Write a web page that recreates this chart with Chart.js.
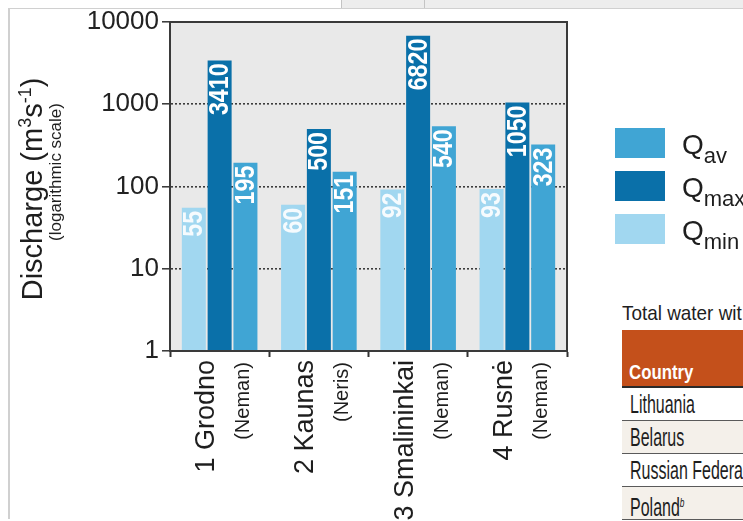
<!DOCTYPE html>
<html>
<head>
<meta charset="utf-8">
<script src="https://cdn.jsdelivr.net/npm/chart.js@4.4.1/dist/chart.umd.min.js"></script>
<style>
  html, body { margin: 0; padding: 0; background: #fff; }
  #page { position: relative; width: 743px; height: 521px; overflow: hidden; background: #fff; }
  #strip { position: absolute; left: 341px; top: 0; width: 402px; height: 8px; background: #ededed;
           border-left: 1px solid #c4c4c4; border-bottom: 1px solid #c4c4c4; }
  #strip2 { position: absolute; left: 424px; top: 0; width: 1px; height: 8px; background: #c4c4c4; }
  #frame { position: absolute; left: 8px; top: 8px; width: 760px; height: 510px;
           border-top: 1px solid #d0d0d0; border-left: 2px solid #d0d0d0; }
  #c { position: absolute; left: 0; top: 0; z-index: 2; }
  .t { position: absolute; font-family: 'Liberation Sans', Arial, sans-serif; color: #1e1e1e; white-space: nowrap; }
  .sq { display: inline-block; transform-origin: left center; }
  #cap { left: 622px; top: 302px; font-size: 21px; line-height: 22px; }
  #cap .sq { transform: scaleX(0.9); }
  #hdr { left: 622px; top: 330px; width: 140px; height: 56px; background: #c4501b; border-bottom: 2px solid #2a2a2a; }
  #hdr .sq { position: absolute; left: 7px; bottom: 2px; color: #fff; font-weight: bold; font-size: 21px; transform: scaleX(0.8); }
  .row { position: absolute; left: 622px; width: 140px; height: 32px; border-bottom: 1px solid #5a5a5a; background: #fff; }
  .row.alt { background: #f4f0ea; }
  .row .sq { position: absolute; left: 8px; top: 2px; font-size: 25px; line-height: 28px; transform: scaleX(0.64); }
  .row sup { font-size: 13px; font-style: italic; vertical-align: 9px; }
</style>
</head>
<body>
<div id="page">
  <div id="strip"></div>
  <div id="strip2"></div>
  <div id="frame"></div>

  <div class="t" id="cap"><span class="sq">Total water wit</span></div>
  <div class="t" id="hdr"><span class="sq">Country</span></div>
  <div class="t row" style="top:388px"><span class="sq">Lithuania</span></div>
  <div class="t row alt" style="top:421px"><span class="sq">Belarus</span></div>
  <div class="t row" style="top:454px"><span class="sq">Russian Federa</span></div>
  <div class="t row alt" style="top:487px"><span class="sq">Poland<sup>b</sup></span></div>

  <canvas id="c" width="743" height="521"></canvas>
</div>

<script>
// Gauging stations and their rivers
const categories = ['1 Grodno', '2 Kaunas', '3 Smalininkai', '4 Rusnė'];
const rivers = ['(Neman)', '(Neris)', '(Neman)', '(Neman)'];

// Discharge, m3/s
const qMin = [55, 60, 92, 93];
const qMax = [3410, 500, 6820, 1050];
const qAv = [195, 151, 540, 323];

// Decade ticks of the logarithmic axis
const yTickValues = [1, 10, 100, 1000, 10000];

// Legend subscripts for Q
const seriesSubs = ['min', 'max', 'av'];

const FONT = "'Liberation Sans', Arial, sans-serif";
const COLORS = ['#a1d7f0', '#0a70a9', '#40a5d4'];

// grey plot background
const plotBg = {
  id: 'plotBg',
  beforeDraw(chart) {
    const { ctx, chartArea: a } = chart;
    ctx.save();
    ctx.fillStyle = '#e9e9e9';
    ctx.fillRect(a.left, a.top, a.right - a.left, a.bottom - a.top);
    ctx.restore();
  }
};

// vertical value labels at the top of each bar, then the plot frame
const barLabels = {
  id: 'barLabels',
  afterDatasetsDraw(chart) {
    const ctx = chart.ctx;
    chart.data.datasets.forEach((ds, di) => {
      const meta = chart.getDatasetMeta(di);
      meta.data.forEach((bar, i) => {
        ctx.save();
        ctx.translate(bar.x + 1, bar.y + 3);
        ctx.rotate(-Math.PI / 2);
        ctx.scale(0.86, 1);
        ctx.font = 'bold 27px ' + FONT;
        ctx.fillStyle = di === 0 ? 'rgba(255,255,255,0.9)' : '#ffffff';
        ctx.textAlign = 'right';
        ctx.textBaseline = 'middle';
        ctx.fillText(String(ds.data[i]), 0, 0);
        ctx.restore();
      });
    });
    const a = chart.chartArea;
    ctx.save();
    ctx.strokeStyle = '#3a3a3a';
    ctx.lineWidth = 2;
    ctx.strokeRect(a.left, a.top, a.right - a.left, a.bottom - a.top);
    ctx.restore();
  }
};

// draws a run of text pieces (with super/subscripts) along the current x direction
function drawRuns(ctx, runs, x, y, align) {
  let total = 0;
  runs.forEach(r => { ctx.font = r.size + 'px ' + FONT; r.w = ctx.measureText(r.t).width; total += r.w; });
  let cx = align === 'center' ? x - total / 2 : x;
  ctx.textAlign = 'left';
  ctx.textBaseline = 'alphabetic';
  runs.forEach(r => {
    ctx.font = r.size + 'px ' + FONT;
    ctx.fillText(r.t, cx, y + (r.dy || 0));
    cx += r.w;
  });
}

// category labels, axis title and legend
const annotations = {
  id: 'annotations',
  afterDraw(chart) {
    const ctx = chart.ctx;
    const a = chart.chartArea;
    const xs = chart.scales.x;
    ctx.save();
    ctx.fillStyle = '#1e1e1e';

    categories.forEach((c, i) => {
      const cx = xs.getPixelForValue(i);
      ctx.save();
      ctx.translate(cx - 13, a.bottom + 9);
      ctx.rotate(-Math.PI / 2);
      ctx.font = '27px ' + FONT;
      ctx.textAlign = 'right';
      ctx.textBaseline = 'middle';
      ctx.fillText(c, 0, 0);
      ctx.restore();

      ctx.save();
      ctx.translate(cx + 24, a.bottom + 11);
      ctx.rotate(-Math.PI / 2);
      ctx.font = '20px ' + FONT;
      ctx.textAlign = 'right';
      ctx.textBaseline = 'middle';
      ctx.fillText(rivers[i], 0, 0);
      ctx.restore();
    });

    // y axis title
    ctx.save();
    ctx.translate(42, 189);
    ctx.rotate(-Math.PI / 2);
    drawRuns(ctx, [
      { t: 'Discharge (m', size: 29 },
      { t: '3', size: 18, dy: -11 },
      { t: 's', size: 29 },
      { t: '-1', size: 18, dy: -11 },
      { t: ')', size: 29 }
    ], 0, 0, 'center');
    ctx.restore();

    ctx.save();
    ctx.translate(61, 172);
    ctx.rotate(-Math.PI / 2);
    drawRuns(ctx, [{ t: '(logarithmic scale)', size: 17 }], 0, 0, 'center');
    ctx.restore();

    // legend: Qav, Qmax, Qmin
    [2, 1, 0].forEach((di, k) => {
      const ds = chart.data.datasets[di];
      const y = a.top + 106 + k * 43;
      ctx.fillStyle = ds.backgroundColor;
      ctx.fillRect(a.right + 48, y, 50, 30);
      ctx.fillStyle = '#1e1e1e';
      drawRuns(ctx, [
        { t: 'Q', size: 28 },
        { t: seriesSubs[di], size: 22, dy: 9 }
      ], a.right + 115, y + 26, 'left');
    });
    ctx.restore();
  }
};

new Chart(document.getElementById('c'), {
  type: 'bar',
  data: {
    labels: categories,
    datasets: [
      { label: 'Qmin', data: qMin, backgroundColor: COLORS[0] },
      { label: 'Qmax', data: qMax, backgroundColor: COLORS[1] },
      { label: 'Qav', data: qAv, backgroundColor: COLORS[2] }
    ]
  },
  options: {
    responsive: false,
    animation: false,
    events: [],
    layout: { padding: { top: 22, right: 176, bottom: 0, left: 0 } },
    datasets: { bar: { barPercentage: 0.93, categoryPercentage: 0.78, borderWidth: 0 } },
    plugins: { legend: { display: false }, tooltip: { enabled: false } },
    scales: {
      x: {
        offset: true,
        grid: { offset: true, drawOnChartArea: false, drawTicks: true, tickLength: 6, tickColor: '#333', tickWidth: 2 },
        border: { color: '#333', width: 2 },
        ticks: { display: false },
        afterFit(s) { s.height = 170; }
      },
      y: {
        type: 'logarithmic',
        min: 1,
        max: 10000,
        afterBuildTicks(s) { s.ticks = yTickValues.map(v => ({ value: v })); },
        ticks: { callback: v => String(v), font: { family: FONT, size: 26 }, color: '#222', padding: 3, autoSkip: false },
        grid: { color: '#3c3c3c', lineWidth: 1.6, tickLength: 8, tickColor: '#333', tickWidth: 1.5 },
        border: { color: '#333', width: 2, dash: [2, 2] },
        afterFit(s) { s.width = 170; }
      }
    }
  },
  plugins: [plotBg, barLabels, annotations]
});
</script>
</body>
</html>
